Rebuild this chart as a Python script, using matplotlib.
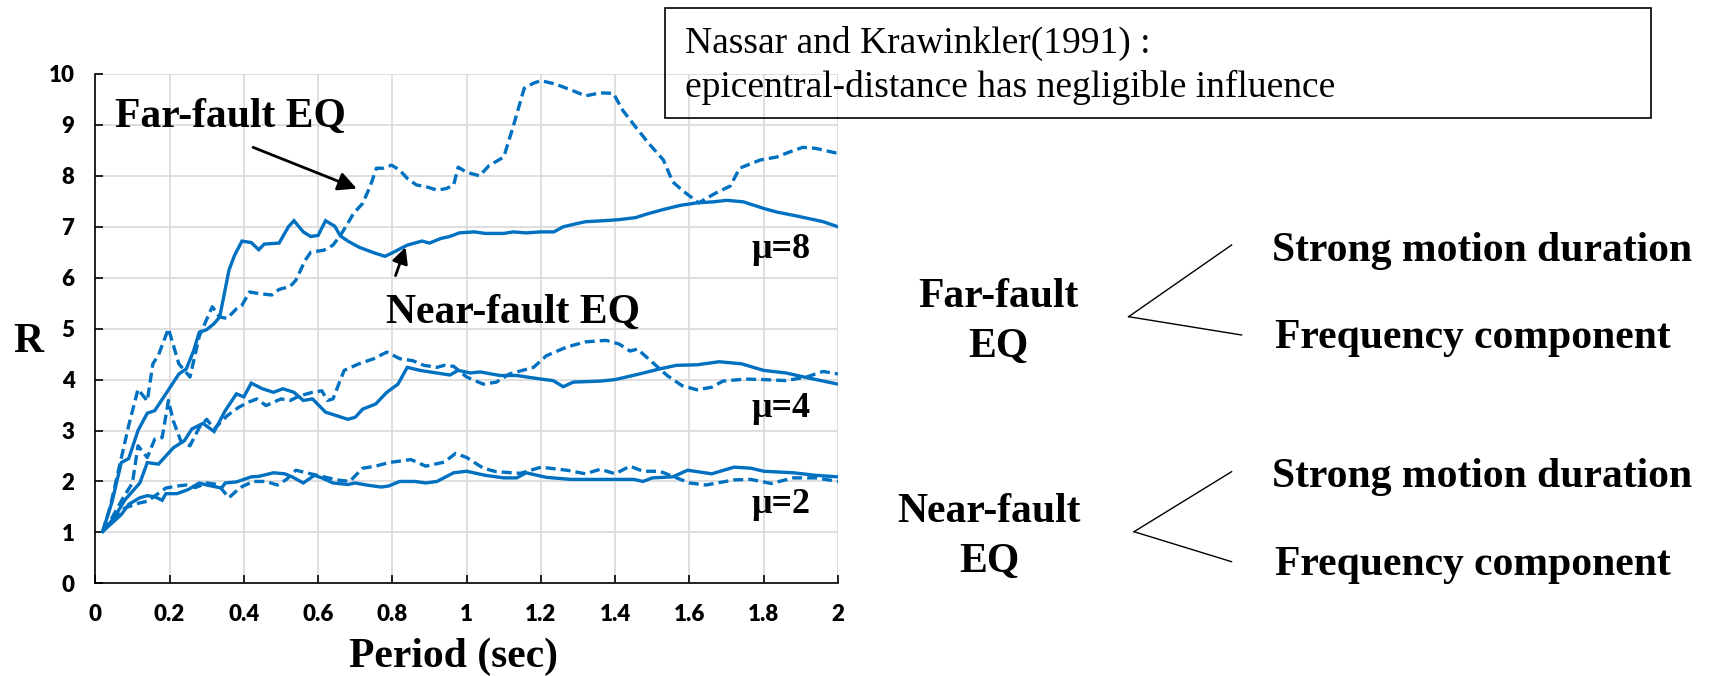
import matplotlib
matplotlib.use('Agg')
import matplotlib.pyplot as plt
from matplotlib.lines import Line2D
from matplotlib.patches import Rectangle

W, H = 1719, 676
BLUE = '#0070C0'
SERIF = 'Liberation Serif'

# R spectra: solid = near-fault, dashed = far-fault
near_mu2_t = [0.02, 0.04, 0.07, 0.09, 0.12, 0.14, 0.16, 0.18, 0.19, 0.22, 0.25, 0.28, 0.30, 0.34, 0.35,
              0.38, 0.42, 0.44, 0.48, 0.51, 0.53, 0.56, 0.59, 0.61, 0.64, 0.68, 0.70, 0.73, 0.77, 0.79,
              0.82, 0.86, 0.89, 0.92, 0.965, 1.0, 1.05, 1.10, 1.135, 1.16, 1.215, 1.28, 1.40, 1.45,
              1.475, 1.50, 1.555, 1.595, 1.66, 1.72, 1.765, 1.80, 1.88, 1.94, 2.0]
near_mu2 = [1.02, 1.15, 1.35, 1.55, 1.68, 1.72, 1.70, 1.63, 1.76, 1.76, 1.84, 1.97, 1.93, 1.87, 1.97,
            1.99, 2.09, 2.10, 2.17, 2.15, 2.09, 1.97, 2.12, 2.07, 1.97, 1.94, 1.97, 1.93, 1.89, 1.91,
            2.0, 2.0, 1.97, 2.0, 2.17, 2.2, 2.12, 2.07, 2.07, 2.17, 2.08, 2.04, 2.04, 2.04,
            2.0, 2.07, 2.09, 2.22, 2.15, 2.28, 2.26, 2.2, 2.17, 2.12, 2.09]

far_mu2_t = [0.02, 0.05, 0.08, 0.12, 0.14, 0.165, 0.19, 0.22, 0.245, 0.27, 0.30, 0.33, 0.36, 0.39,
             0.425, 0.46, 0.49, 0.515, 0.54, 0.58, 0.61, 0.65, 0.685, 0.72, 0.755, 0.79, 0.85, 0.89,
             0.94, 0.97, 1.0, 1.045, 1.08, 1.145, 1.2, 1.27, 1.32, 1.36, 1.40, 1.44, 1.475, 1.52,
             1.555, 1.60, 1.645, 1.72, 1.765, 1.82, 1.88, 1.94, 2.0]
far_mu2 = [1.02, 1.25, 1.48, 1.58, 1.61, 1.74, 1.87, 1.91, 1.93, 1.88, 1.97, 1.94, 1.68, 1.88,
           2.0, 2.0, 1.93, 2.04, 2.22, 2.15, 2.1, 2.03, 2.0, 2.26, 2.3, 2.37, 2.43, 2.3,
           2.38, 2.55, 2.47, 2.26, 2.19, 2.16, 2.28, 2.22, 2.15, 2.24, 2.15, 2.3, 2.2, 2.2,
           2.1, 1.97, 1.93, 2.03, 2.04, 1.96, 2.07, 2.07, 2.0]

near_mu4_t = [0.02, 0.05, 0.08, 0.12, 0.14, 0.17, 0.21, 0.24, 0.26, 0.29, 0.32, 0.35, 0.38, 0.40, 0.42,
              0.45, 0.48, 0.505, 0.535, 0.56, 0.585, 0.62, 0.65, 0.68, 0.70, 0.72, 0.755, 0.785, 0.815,
              0.84, 0.875, 0.91, 0.955, 0.977, 1.01, 1.036, 1.09, 1.135, 1.2, 1.233, 1.26, 1.287,
              1.36, 1.40, 1.465, 1.52, 1.565, 1.62, 1.68, 1.74, 1.80, 1.86, 1.915, 2.0]
near_mu4 = [1.02, 1.28, 1.64, 1.97, 2.37, 2.34, 2.66, 2.8, 3.03, 3.14, 2.98, 3.39, 3.72, 3.66, 3.93,
            3.82, 3.75, 3.82, 3.75, 3.59, 3.62, 3.36, 3.29, 3.22, 3.26, 3.42, 3.52, 3.75, 3.91,
            4.24, 4.18, 4.14, 4.09, 4.18, 4.13, 4.15, 4.08, 4.08, 4.01, 3.98, 3.86, 3.95,
            3.97, 4.0, 4.11, 4.21, 4.28, 4.29, 4.35, 4.31, 4.18, 4.13, 4.04, 3.91]

far_mu4_t = [0.02, 0.04, 0.075, 0.10, 0.115, 0.14, 0.16, 0.18, 0.197, 0.21, 0.23, 0.255, 0.28, 0.30,
             0.32, 0.355, 0.385, 0.41, 0.435, 0.46, 0.50, 0.525, 0.55, 0.585, 0.61, 0.625, 0.64, 0.67,
             0.71, 0.75, 0.785, 0.82, 0.855, 0.885, 0.92, 0.94, 0.965, 1.0, 1.045, 1.08, 1.115, 1.18,
             1.215, 1.27, 1.32, 1.375, 1.41, 1.44, 1.46, 1.50, 1.54, 1.58, 1.62, 1.66, 1.69, 1.75,
             1.80, 1.86, 1.915, 1.96, 2.0]
far_mu4 = [1.02, 1.22, 1.68, 1.97, 2.7, 2.47, 2.83, 2.86, 3.59, 3.19, 2.8, 2.7, 3.06, 3.22,
           3.03, 3.29, 3.45, 3.55, 3.62, 3.49, 3.62, 3.59, 3.68, 3.75, 3.78, 3.59, 3.62, 4.18,
           4.31, 4.41, 4.54, 4.41, 4.37, 4.28, 4.24, 4.28, 4.26, 4.05, 3.91, 3.95, 4.11, 4.24,
           4.47, 4.64, 4.74, 4.77, 4.7, 4.56, 4.6, 4.34, 4.08, 3.88, 3.8, 3.85, 3.97, 4.01,
           4.0, 3.98, 4.05, 4.16, 4.11]

near_mu8_t = [0.02, 0.045, 0.07, 0.09, 0.115, 0.14, 0.16, 0.19, 0.225, 0.245, 0.265, 0.28, 0.30, 0.32,
              0.335, 0.36, 0.375, 0.395, 0.42, 0.44, 0.455, 0.495, 0.52, 0.535, 0.56, 0.58, 0.60,
              0.62, 0.645, 0.66, 0.68, 0.71, 0.75, 0.78, 0.80, 0.84, 0.88, 0.90, 0.93, 0.955, 0.98,
              1.02, 1.05, 1.10, 1.125, 1.16, 1.2, 1.235, 1.26, 1.295, 1.32, 1.37, 1.41, 1.455,
              1.485, 1.53, 1.575, 1.62, 1.665, 1.70, 1.745, 1.80, 1.835, 1.89, 1.935, 1.96, 2.0]
near_mu8 = [1.02, 1.6, 2.37, 2.45, 3.0, 3.34, 3.39, 3.72, 4.11, 4.21, 4.57, 4.93, 4.98, 5.1,
            5.23, 6.15, 6.44, 6.72, 6.69, 6.55, 6.66, 6.68, 7.0, 7.12, 6.9, 6.81, 6.83,
            7.12, 7.01, 6.82, 6.72, 6.6, 6.49, 6.42, 6.49, 6.64, 6.72, 6.68, 6.77, 6.81, 6.88,
            6.9, 6.87, 6.87, 6.9, 6.88, 6.9, 6.9, 7.0, 7.06, 7.1, 7.12, 7.14, 7.18,
            7.25, 7.34, 7.42, 7.47, 7.49, 7.52, 7.49, 7.36, 7.29, 7.21, 7.14, 7.1, 7.0]

far_mu8_t = [0.02, 0.04, 0.065, 0.09, 0.115, 0.14, 0.155, 0.17, 0.197, 0.225, 0.24, 0.255, 0.28,
             0.295, 0.315, 0.335, 0.355, 0.38, 0.395, 0.415, 0.44, 0.475, 0.495, 0.525, 0.54, 0.565,
             0.58, 0.615, 0.64, 0.66, 0.685, 0.695, 0.72, 0.74, 0.757, 0.775, 0.798, 0.82, 0.84,
             0.865, 0.89, 0.92, 0.945, 0.965, 0.977, 1.0, 1.035, 1.06, 1.10, 1.125, 1.155, 1.18,
             1.20, 1.24, 1.28, 1.32, 1.36, 1.395, 1.42, 1.455, 1.49, 1.53, 1.555, 1.585, 1.625,
             1.67, 1.71, 1.735, 1.79, 1.835, 1.87, 1.905, 1.94, 2.0]
far_mu8 = [1.02, 1.5, 2.3, 3.1, 3.81, 3.58, 4.31, 4.48, 5.0, 4.31, 4.18, 4.05, 4.85,
           5.1, 5.43, 5.23, 5.2, 5.39, 5.46, 5.72, 5.69, 5.66, 5.77, 5.83, 5.95, 6.34,
           6.5, 6.54, 6.64, 6.83, 7.13, 7.26, 7.46, 7.79, 8.15, 8.15, 8.21, 8.11, 7.95,
           7.82, 7.79, 7.72, 7.75, 7.82, 8.17, 8.07, 8.0, 8.2, 8.37, 8.96, 9.72, 9.82,
           9.87, 9.8, 9.69, 9.57, 9.63, 9.62, 9.29, 8.96, 8.64, 8.31, 7.88, 7.69, 7.47,
           7.66, 7.8, 8.15, 8.31, 8.37, 8.47, 8.56, 8.54, 8.44]

x_ticks = [0, 0.2, 0.4, 0.6, 0.8, 1.0, 1.2, 1.4, 1.6, 1.8, 2.0]
x_tick_labels = ['0', '0.2', '0.4', '0.6', '0.8', '1', '1.2', '1.4', '1.6', '1.8', '2']
y_ticks = list(range(0, 11))


def fx(px):
    return px / W


def fy(py):
    return 1 - py / H


fig = plt.figure(figsize=(W / 100, H / 100), dpi=100)
ax = fig.add_axes([fx(95.3), fy(583.3), (838 - 95.3) / W, (583.3 - 74) / H])

dash = (0, (3, 1.5))
for t, r in [(near_mu2_t, near_mu2), (near_mu4_t, near_mu4), (near_mu8_t, near_mu8)]:
    ax.plot(t, r, color=BLUE, lw=2.4, solid_joinstyle='miter')
for t, r in [(far_mu2_t, far_mu2), (far_mu4_t, far_mu4), (far_mu8_t, far_mu8)]:
    ax.plot(t, r, color=BLUE, lw=2.4, linestyle=dash)

ax.set_xlim(0, 2)
ax.set_ylim(0, 10)
ax.set_xticks(x_ticks)
ax.set_xticklabels(x_tick_labels)
ax.set_yticks(y_ticks)
ax.grid(True, color='#d9d9d9', lw=1.2)
ax.set_axisbelow(True)
for s in ['top', 'right']:
    ax.spines[s].set_visible(False)
for s in ['left', 'bottom']:
    ax.spines[s].set_linewidth(1.2)
ax.tick_params(direction='in', length=6, width=1.2, pad=15)
for lab in ax.get_xticklabels() + ax.get_yticklabels():
    lab.set_fontfamily('Lato')
    lab.set_fontweight('heavy')
    lab.set_fontsize(16)

big = dict(family=SERIF, fontweight='bold', fontsize=30)

# annotations inside the plot
ax.text(0.053, 8.96, 'Far-fault EQ', va='baseline', ha='left', **big)
ax.annotate('', xy=(0.711, 7.73), xytext=(0.418, 8.58),
            arrowprops=dict(arrowstyle='-|>', color='k', lw=2, mutation_scale=28))
ax.text(0.783, 5.11, 'Near-fault EQ', va='baseline', ha='left', **big)
ax.annotate('', xy=(0.838, 6.65), xytext=(0.806, 5.99),
            arrowprops=dict(arrowstyle='-|>', color='k', lw=2, mutation_scale=24))
for lbl, yb in [('μ=8', 6.39), ('μ=4', 3.26), ('μ=2', 1.375)]:
    ax.text(1.926, yb, lbl, va='baseline', ha='right', family=SERIF, fontweight='bold', fontsize=26)

# axis titles
fig.text(fx(13), fy(351.7), 'R', va='baseline', ha='left', **big)
fig.text(fx(349), fy(667), 'Period (sec)', va='baseline', ha='left', **big)

# reference box
fig.patches.append(Rectangle((fx(665), fy(117.5)), (1651 - 665) / W, 110 / H,
                             transform=fig.transFigure, fill=False, edgecolor='k', lw=1.2))
fig.text(fx(685), fy(53), 'Nassar and Krawinkler(1991) :', va='baseline', ha='left',
         family=SERIF, fontsize=27)
fig.text(fx(685), fy(97), 'epicentral-distance has negligible influence', va='baseline', ha='left',
         family=SERIF, fontsize=27)

# right side factor diagrams
groups = [
    ('Far-fault', 'EQ', 998, 306.7, 356.7, (1128.6, 316.7), (1231.6, 245), (1241.6, 335), 261, 348.3),
    ('Near-fault', 'EQ', 989, 521.7, 571.7, (1134, 531.7), (1231.6, 471.7), (1231.6, 561.7), 486.7, 575),
]
for l1, l2, cx, b1, b2, v, up, lo, sb, fb in groups:
    fig.text(fx(cx), fy(b1), l1, va='baseline', ha='center', **big)
    fig.text(fx(cx), fy(b2), l2, va='baseline', ha='center', **big)
    for end in (up, lo):
        fig.lines.append(Line2D([fx(v[0]), fx(end[0])], [fy(v[1]), fy(end[1])],
                                transform=fig.transFigure, color='k', lw=1.0))
    fig.text(fx(1271.7), fy(sb), 'Strong motion duration', va='baseline', ha='left', **big)
    fig.text(fx(1275), fy(fb), 'Frequency component', va='baseline', ha='left', **big)

fig.savefig('out.png', dpi=100, facecolor='white')
